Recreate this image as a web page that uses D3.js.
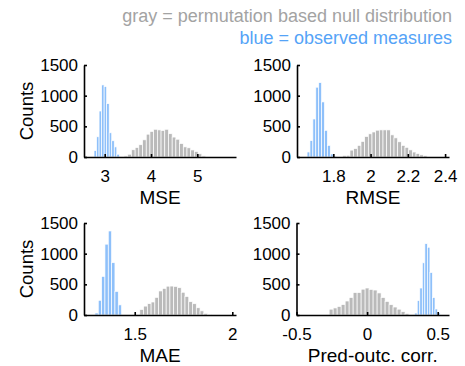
<!DOCTYPE html>
<html>
<head>
<meta charset="utf-8">
<script src="https://d3js.org/d3.v7.min.js"></script>
<style>
  body { margin: 0; background: #fff; }
  svg { display: block; font-family: "Liberation Sans", Arial, Helvetica, sans-serif; }
  .axis path, .axis line { stroke: #000; stroke-width: 1.6; }
  .axis text { font-size: 17px; fill: #000; font-family: "Liberation Sans", Arial, sans-serif; }
</style>
</head>
<body>
<svg id="chart" width="465" height="366"></svg>
<script>
// legend lines
var legendText = ["gray = permutation based null distribution", "blue = observed measures"];

// y ticks shared by all panels
var countTicks = [0, 500, 1000, 1500];

// MSE
var mseTicks = [3, 4, 5];
var mseNullStart = 3.417, mseNullWidth = 0.080;
var mseNull = [18, 45, 118, 155, 200, 280, 372, 418, 452, 442, 432, 452, 380, 325, 290, 220, 165, 150, 115, 90, 52, 18];
var mseObsStart = 2.769, mseObsWidth = 0.0547;
var mseObs = [105, 330, 750, 1175, 1150, 870, 395, 265, 165, 45];

// RMSE
var rmseTicks = [1.8, 2, 2.2, 2.4];
var rmseNullStart = 1.85, rmseNullWidth = 0.0197;
var rmseNull = [25, 28, 112, 138, 190, 255, 335, 378, 408, 437, 442, 442, 442, 361, 312, 248, 190, 158, 116, 81, 57, 35, 22];
var rmseObsStart = 1.659, rmseObsWidth = 0.0156;
var rmseObs = [82, 268, 620, 1138, 1213, 898, 435, 190, 49, 16];

// MAE
var maeTicks = [1.5, 2];
var maeNullStart = 1.526, maeNullWidth = 0.0193;
var maeNull = [90, 145, 185, 212, 288, 392, 434, 470, 472, 467, 445, 371, 302, 217, 184, 118, 68, 27, 11];
var maeObsStart = 1.296, maeObsWidth = 0.0171;
var maeObs = [33, 240, 630, 1155, 1370, 853, 385, 165];

// prediction-outcome correlation
var corrTicks = [-0.5, 0, 0.5];
var corrNullStart = -0.297, corrNullWidth = 0.0283;
var corrNull = [12, 95, 115, 140, 170, 228, 285, 366, 366, 421, 440, 418, 407, 360, 285, 222, 168, 130, 95, 54, 25, 11];
var corrObsStart = 0.337, corrObsWidth = 0.018;
var corrObs = [32, 236, 440, 851, 1163, 1105, 693, 285, 98, 38];

var grayFill = "#bababa", blueFill = "#8ec0fa";

var panels = [
  {label: "MSE", domain: [2.553, 5.835], ticks: mseTicks, x0: 84, x1: 236, y0: 65, y1: 157, ylab: true,
   nullStart: mseNullStart, nullWidth: mseNullWidth, nullCounts: mseNull,
   obsStart: mseObsStart, obsWidth: mseObsWidth, obsCounts: mseObs},
  {label: "RMSE", domain: [1.605, 2.421], ticks: rmseTicks, x0: 297, x1: 449, y0: 65, y1: 157, ylab: false,
   nullStart: rmseNullStart, nullWidth: rmseNullWidth, nullCounts: rmseNull,
   obsStart: rmseObsStart, obsWidth: rmseObsWidth, obsCounts: rmseObs},
  {label: "MAE", domain: [1.240, 2.019], ticks: maeTicks, x0: 84, x1: 236, y0: 223, y1: 315, ylab: true,
   nullStart: maeNullStart, nullWidth: maeNullWidth, nullCounts: maeNull,
   obsStart: maeObsStart, obsWidth: maeObsWidth, obsCounts: maeObs},
  {label: "Pred-outc. corr.", domain: [-0.5, 0.58], ticks: corrTicks, x0: 296.5, x1: 449, y0: 223, y1: 315, ylab: false,
   nullStart: corrNullStart, nullWidth: corrNullWidth, nullCounts: corrNull,
   obsStart: corrObsStart, obsWidth: corrObsWidth, obsCounts: corrObs}
];

var svg = d3.select("#chart");

svg.selectAll("text.legend").data(legendText).enter().append("text")
  .attr("class", "legend")
  .attr("x", 452)
  .attr("y", function(d, i) { return i == 0 ? 22 : 44; })
  .attr("text-anchor", "end")
  .style("font-size", "18px")
  .style("fill", function(d, i) { return i == 0 ? "#a3a3a3" : "#55a3f7"; })
  .text(function(d) { return d; });

function drawBars(g, x, y, start, width, counts, color) {
  g.selectAll(null).data(counts).enter().append("rect")
    .attr("x", function(d, i) { return x(start + i * width); })
    .attr("width", function(d, i) { return x(start + (i + 1) * width) - x(start + i * width); })
    .attr("y", function(d) { return y(d); })
    .attr("height", function(d) { return y(0) - y(d); })
    .style("fill", color)
    .style("stroke", "#fff")
    .style("stroke-width", 0.7);
}

// plain number text, hyphen minus like the original
function plain(d) { return String(d); }

panels.forEach(function(p) {
  var x = d3.scaleLinear().domain(p.domain).range([p.x0, p.x1]);
  var y = d3.scaleLinear().domain([0, 1500]).range([p.y1, p.y0]);
  var g = svg.append("g");

  drawBars(g, x, y, p.nullStart, p.nullWidth, p.nullCounts, grayFill);
  drawBars(g, x, y, p.obsStart, p.obsWidth, p.obsCounts, blueFill);

  g.append("g").attr("class", "axis")
    .attr("transform", "translate(0," + p.y1 + ")")
    .call(d3.axisBottom(x).tickValues(p.ticks).tickFormat(plain).tickSizeInner(-3).tickSizeOuter(0).tickPadding(13));

  g.append("g").attr("class", "axis")
    .attr("transform", "translate(" + p.x0 + ",0)")
    .call(d3.axisLeft(y).tickValues(countTicks).tickFormat(plain).tickSizeInner(-3).tickSizeOuter(0).tickPadding(6));

  g.append("text")
    .attr("x", (p.x0 + p.x1) / 2)
    .attr("y", p.y1 + 47)
    .attr("text-anchor", "middle")
    .style("font-size", "19px")
    .text(p.label);

  if (p.ylab) {
    g.append("text")
      .attr("transform", "translate(33," + (p.y0 + p.y1) / 2 + ") rotate(-90)")
      .attr("text-anchor", "middle")
      .style("font-size", "18.5px")
      .text("Counts");
  }
});
</script>
</body>
</html>
